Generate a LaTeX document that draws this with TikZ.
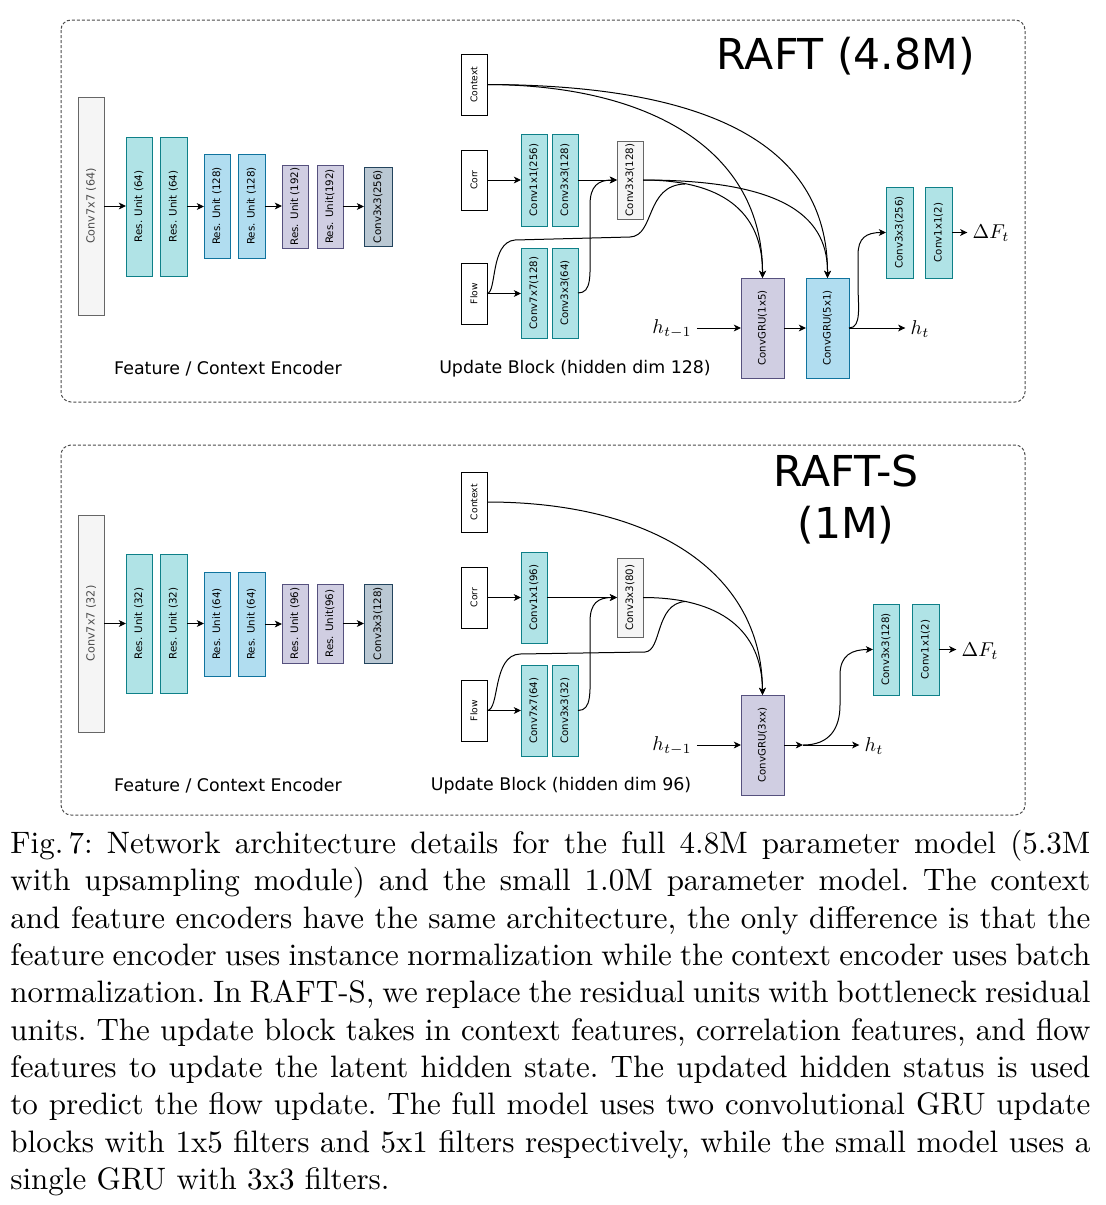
\documentclass[tikz,border=0pt]{standalone}
\usepackage{fontspec}
\usetikzlibrary{arrows.meta}
\newfontfamily\dv{DejaVu Sans}
\newfontfamily\capfont{lmroman10-regular.otf}
\definecolor{tealF}{HTML}{B0E3E6}\definecolor{tealD}{HTML}{0E8088}
\definecolor{blueF}{HTML}{B1DDF0}\definecolor{blueD}{HTML}{10739E}
\definecolor{purpF}{HTML}{D0CEE2}\definecolor{purpD}{HTML}{56517E}
\definecolor{steelF}{HTML}{BAC8D3}\definecolor{steelD}{HTML}{23445D}
\definecolor{lgF}{HTML}{F5F5F5}\definecolor{lgD}{HTML}{666666}
\tikzset{
  bx/.style={draw, line width=0.5pt, inner sep=0pt, outer sep=0pt},
  cteal/.style={bx, fill=tealF, draw=tealD},
  cblue/.style={bx, fill=blueF, draw=blueD},
  cpurp/.style={bx, fill=purpF, draw=purpD},
  csteel/.style={bx, fill=steelF, draw=steelD},
  cgray/.style={bx, fill=lgF, draw=lgD},
  cwhite/.style={bx, fill=white, draw=black},
  lblE/.style={rotate=90, inner sep=0pt, font=\dv\fontsize{5.15}{6}\selectfont, text=black},
  lblG/.style={rotate=90, inner sep=0pt, font=\dv\fontsize{5.6}{6}\selectfont, text=black!70},
  lblU/.style={rotate=90, inner sep=0pt, font=\dv\fontsize{5.1}{6}\selectfont, text=black},
  lblS/.style={rotate=90, inner sep=0pt, font=\dv\fontsize{4.6}{5}\selectfont},
  arr/.style={draw, line width=0.5pt, -{Stealth[length=3.6pt,width=3.4pt,inset=1pt]}},
  ln/.style={draw, line width=0.5pt},
  ttl/.style={font=\dv\fontsize{8.7}{10}\selectfont},
  big/.style={font=\dv\fontsize{21.3}{26}\selectfont, align=center},
  mth/.style={font=\fontsize{10}{12}\selectfont, inner sep=2.5pt},
  panel/.style={draw=black!70, line width=0.5pt, dash pattern=on 1.5pt off 1pt, rounded corners=5pt},
}
% #1 box style, #2 name, #3-#6 x1 y1 x2 y2 (px), #7 text style, #8 text
\newcommand\blk[8]{%
  \node[#1, minimum width={(#5-#3)*0.5pt}, minimum height={(#6-#4)*0.5pt}] (#2) at ({(#3+#5)/2},{(#4+#6)/2}) {};
  \node[#7] (#2-t) at (#2.center) {#8};}
\begin{document}
\begin{tikzpicture}[x=0.5pt, y=-0.5pt]
\useasboundingbox (0,0) rectangle (1105,1205);
\fill[white] (0,0) rectangle (1105,1205);

% ---------------- panels
\draw[panel] (61,20) rectangle (1025,402);
\draw[panel] (61,445) rectangle (1025,815);

% ================= TOP: RAFT
\node[big] (ttitle) at (846,56) {RAFT (4.8M)};
% encoder
\blk{cgray}{tc77}{78}{97}{104}{315}{lblG}{Conv7x7 (64)}
\blk{cteal}{tr1}{126}{137}{152}{276}{lblE}{Res. Unit (64)}
\blk{cteal}{tr2}{160}{137}{187}{276}{lblE}{Res. Unit (64)}
\blk{cblue}{tr3}{204}{154}{230}{258}{lblE}{Res. Unit (128)}
\blk{cblue}{tr4}{238}{154}{265}{258}{lblE}{Res. Unit (128)}
\blk{cpurp}{tr5}{282}{165}{308}{248}{lblE}{Res. Unit (192)}
\blk{cpurp}{tr6}{317}{165}{343}{248}{lblE}{Res. Unit(192)}
\blk{csteel}{tc33}{364}{167}{392}{246}{lblE}{Conv3x3(256)}
\draw[arr] (tc77.east) -- (tc77.east -| tr1.west);
\draw[arr] (tr2.east) -- (tr2.east -| tr3.west);
\draw[arr] (tr4.east) -- (tr4.east -| tr5.west);
\draw[arr] (tr6.east) -- (tr6.east -| tc33.west);
\node[ttl] (tenc) at (228,369) {Feature / Context Encoder};
% update block
\blk{cwhite}{tctx}{461}{54}{487}{115}{lblS}{Context}
\blk{cwhite}{tcorr}{461}{150}{487}{210}{lblS}{Corr}
\blk{cwhite}{tflow}{461}{263}{487}{324}{lblS}{Flow}
\blk{cteal}{tu1}{521}{134}{547}{226}{lblU}{Conv1x1(256)}
\blk{cteal}{tu2}{552}{134}{578}{226}{lblU}{Conv3x3(128)}
\blk{cteal}{tu3}{521}{248}{547}{338}{lblU}{Conv7x7(128)}
\blk{cteal}{tu4}{552}{248}{578}{338}{lblU}{Conv3x3(64)}
\blk{cgray}{tu5}{617}{141}{643}{219}{lblU}{Conv3x3(128)}
\blk{cpurp}{tg1}{741}{278}{784}{378}{lblU}{ConvGRU(1x5)}
\blk{cblue}{tg2}{806}{278}{849}{378}{lblU}{ConvGRU(5x1)}
\blk{cteal}{to1}{886}{187}{913}{278}{lblU}{Conv3x3(256)}
\blk{cteal}{to2}{925}{187}{952}{278}{lblU}{Conv1x1(2)}
\draw[arr] (tcorr.east) -- (tcorr.east -| tu1.west);
\draw[arr] (tflow.east) -- (tflow.east -| tu3.west);
\draw[arr] (tu2.east) -- (tu2.east -| tu5.west);
\draw[arr] (tu4.east) .. controls (592,293) and (590,275) .. (590,250) -- (590,205) .. controls (590,186) and (598,180) .. (tu5.west);
\draw[ln] (tflow.east) .. controls (497,293) and (490,242) .. (515,240) -- (630,237) .. controls (655,236) and (645,185) .. (685,184);
\draw[arr] (tctx.east) .. controls (650,85) and (763,150) .. (tg1.north);
\draw[arr] (tctx.east) .. controls (700,85) and (828,140) .. (tg2.north);
\draw[arr] (tu5.east) .. controls (720,180) and (763,210) .. (tg1.north);
\draw[arr] (tu5.east) .. controls (790,180) and (828,220) .. (tg2.north);
\node[mth] (thm) at (672,329) {$h_{t-1}$};
\draw[arr] (thm.east |- tg1.west) -- (tg1.west);
\draw[arr] (tg1.east) -- (tg2.west);
\node[mth] (tht) at (920,329) {$h_t$};
\draw[arr] (tg2.east) -- (tht.west |- tg2.east);
\draw[arr] (tg2.east) .. controls (862,328) and (858,305) .. (858,285) -- (858,255) .. controls (858,238) and (866,232.5) .. (to1.west);
\node[mth] (tdf) at (991,233) {$\Delta F_t$};
\draw[arr] (to2.east) -- (tdf.west |- to2.east);
\node[ttl] (tupd) at (575,369) {Update Block (hidden dim 128)};

% ================= BOTTOM: RAFT-S
\node[big] (btitle) at (846,499) {RAFT-S\\(1M)};
\blk{cgray}{bc77}{78}{515}{104}{732}{lblG}{Conv7x7 (32)}
\blk{cteal}{br1}{126}{554}{152}{693}{lblE}{Res. Unit (32)}
\blk{cteal}{br2}{160}{554}{187}{693}{lblE}{Res. Unit (32)}
\blk{cblue}{br3}{204}{572}{230}{676}{lblE}{Res. Unit (64)}
\blk{cblue}{br4}{238}{572}{265}{676}{lblE}{Res. Unit (64)}
\blk{cpurp}{br5}{282}{584}{308}{663}{lblE}{Res. Unit (96)}
\blk{cpurp}{br6}{317}{584}{343}{663}{lblE}{Res. Unit(96)}
\blk{csteel}{bc33}{364}{584}{392}{663}{lblE}{Conv3x3(128)}
\draw[arr] (bc77.east) -- (bc77.east -| br1.west);
\draw[arr] (br2.east) -- (br2.east -| br3.west);
\draw[arr] (br4.east) -- (br4.east -| br5.west);
\draw[arr] (br6.east) -- (br6.east -| bc33.west);
\node[ttl] (benc) at (228,786) {Feature / Context Encoder};
\blk{cwhite}{bctx}{461}{472}{487}{532}{lblS}{Context}
\blk{cwhite}{bcorr}{461}{567}{487}{628}{lblS}{Corr}
\blk{cwhite}{bflow}{461}{680}{487}{741}{lblS}{Flow}
\blk{cteal}{bu1}{521}{552}{547}{643}{lblU}{Conv1x1(96)}
\blk{cteal}{bu3}{521}{665}{547}{756}{lblU}{Conv7x7(64)}
\blk{cteal}{bu4}{552}{665}{578}{756}{lblU}{Conv3x3(32)}
\blk{cgray}{bu5}{617}{558}{643}{637}{lblU}{Conv3x3(80)}
\blk{cpurp}{bg1}{741}{695}{784}{795}{lblU}{ConvGRU(3xx)}
\blk{cteal}{bo1}{873}{604}{899}{695}{lblU}{Conv3x3(128)}
\blk{cteal}{bo2}{912}{604}{939}{695}{lblU}{Conv1x1(2)}
\draw[arr] (bcorr.east) -- (bcorr.east -| bu1.west);
\draw[arr] (bflow.east) -- (bflow.east -| bu3.west);
\draw[arr] (bu1.east) -- (bu1.east -| bu5.west);
\draw[arr] (bu4.east) .. controls (592,710.5) and (590,692) .. (590,667) -- (590,622) .. controls (590,603) and (598,597.5) .. (bu5.west);
\draw[ln] (bflow.east) .. controls (500,710.5) and (492,655) .. (520,654) -- (645,652) .. controls (662,651) and (655,604) .. (685,601.5);
\draw[arr] (bctx.east) .. controls (650,502) and (762,570) .. (bg1.north);
\draw[arr] (bu5.east) .. controls (720,597.5) and (762,630) .. (bg1.north);
\node[mth] (bhm) at (672,746) {$h_{t-1}$};
\draw[arr] (bhm.east |- bg1.west) -- (bg1.west);
\coordinate (bj) at (803,745);
\draw[arr] (bg1.east) -- (bj);
\node[mth] (bht) at (874,746) {$h_t$};
\draw[arr] (bj) -- (bht.west |- bj);
\draw[arr] (bj) .. controls (830,745) and (840,728) .. (840,705) -- (840,675) .. controls (840,655) and (852,649.5) .. (bo1.west);
\node[mth] (bdf) at (980,651) {$\Delta F_t$};
\draw[arr] (bo2.east) -- (bdf.west |- bo2.east);
\node[ttl] (bupd) at (561,786) {Update Block (hidden dim 96)};

% ================= caption
\node[anchor=north west, inner sep=0pt, text width=540pt, align=justify,
      font=\capfont\fontsize{15.5}{18.65}\selectfont] (cap) at (10,830) {%
\frenchspacing\hyphenpenalty=10000 \exhyphenpenalty=10000 \tolerance=9999
Fig.\,7: Network architecture details for the full 4.8M parameter model (5.3M\linebreak
with upsampling module) and the small 1.0M parameter model. The context\linebreak
and feature encoders have the same architecture, the only difference is that the\linebreak
feature encoder uses instance normalization while the context encoder uses batch\linebreak
normalization. In RAFT-S, we replace the residual units with bottleneck residual\linebreak
units. The update block takes in context features, correlation features, and flow\linebreak
features to update the latent hidden state. The updated hidden status is used\linebreak
to predict the flow update. The full model uses two convolutional GRU update\linebreak
blocks with 1x5 filters and 5x1 filters respectively, while the small model uses a\linebreak
single GRU with 3x3 filters.};
\end{tikzpicture}
\end{document}
